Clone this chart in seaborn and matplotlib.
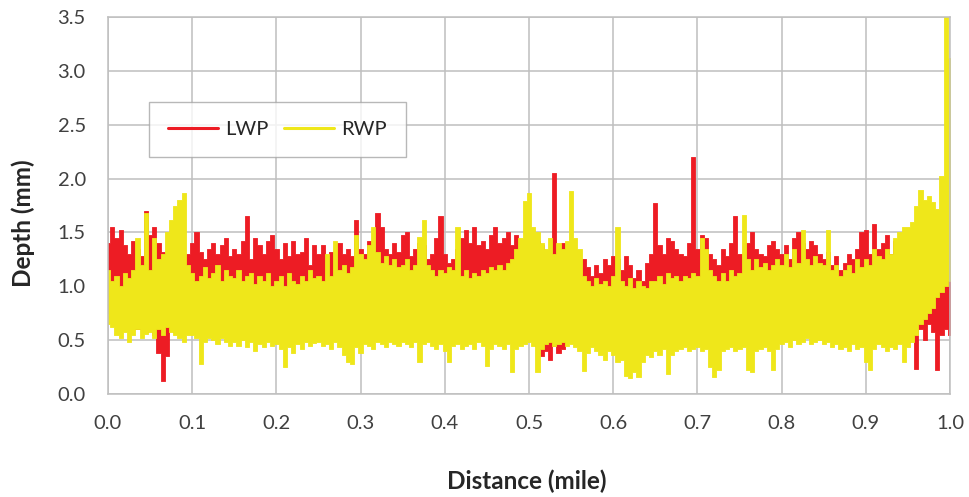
import numpy as np
import pandas as pd
import matplotlib
matplotlib.use("Agg")
import matplotlib.pyplot as plt
from matplotlib.lines import Line2D
import seaborn as sns

# Distance stations (mile), every 0.005
distance = np.round(np.arange(0, 201) * 0.005, 3)

# LWP (left wheel path) local peaks / troughs, mm
lwp_hi = [
    1.40, 1.55, 1.45, 1.52, 1.38, 1.30, 1.42, 1.35, 1.28, 1.70,
    1.48, 1.55, 1.40, 1.32, 1.25, 1.38, 1.30, 1.35, 1.28, 1.30,
    1.40, 1.50, 1.32, 1.25, 1.35, 1.40, 1.30, 1.38, 1.45, 1.28,
    1.35, 1.30, 1.42, 1.65, 1.25, 1.45, 1.38, 1.30, 1.42, 1.48,
    1.35, 1.25, 1.40, 1.28, 1.42, 1.30, 1.32, 1.45, 1.20, 1.38,
    1.30, 1.38, 1.25, 1.32, 1.28, 1.40, 1.30, 1.35, 1.28, 1.62,
    1.35, 1.30, 1.42, 1.25, 1.68, 1.55, 1.35, 1.30, 1.40, 1.32,
    1.48, 1.50, 1.28, 1.35, 1.40, 1.38, 1.25, 1.30, 1.45, 1.65,
    1.30, 1.22, 1.25, 1.35, 1.45, 1.52, 1.40, 1.55, 1.38, 1.42,
    1.35, 1.48, 1.55, 1.40, 1.45, 1.50, 1.38, 1.48, 1.35, 1.40,
    1.40, 1.35, 1.42, 1.38, 1.30, 1.28, 2.05, 1.35, 1.40, 1.30,
    1.25, 1.15, 1.10, 1.25, 1.18, 1.10, 1.20, 1.12, 1.25, 1.20,
    1.28, 1.25, 1.15, 1.28, 1.20, 1.08, 1.15, 1.05, 1.22, 1.30,
    1.77, 1.38, 1.30, 1.45, 1.42, 1.35, 1.30, 1.28, 1.40, 2.20,
    1.35, 1.48, 1.45, 1.30, 1.25, 1.20, 1.35, 1.28, 1.40, 1.65,
    1.30, 1.25, 1.40, 1.50, 1.35, 1.30, 1.28, 1.38, 1.42, 1.35,
    1.30, 1.38, 1.25, 1.45, 1.50, 1.40, 1.35, 1.42, 1.38, 1.30,
    1.25, 1.32, 1.20, 1.28, 1.15, 1.22, 1.30, 1.25, 1.35, 1.50,
    1.52, 1.30, 1.58, 1.35, 1.40, 1.48, 1.30, 1.42, 1.35, 1.28,
    1.32, 1.25, 1.20, 1.15, 1.10, 1.05, 0.95, 1.00, 1.08, 1.10,
    1.05,
]
lwp_lo = [
    0.75, 0.68, 0.72, 0.65, 0.70, 0.62, 0.68, 0.60, 0.66, 0.58,
    0.62, 0.55, 0.38, 0.12, 0.35, 0.60, 0.58, 0.65, 0.62, 0.70,
    0.65, 0.60, 0.68, 0.62, 0.70, 0.58, 0.64, 0.60, 0.66, 0.62,
    0.58, 0.66, 0.60, 0.64, 0.55, 0.62, 0.68, 0.60, 0.57, 0.63,
    0.60, 0.65, 0.58, 0.62, 0.68, 0.60, 0.55, 0.63, 0.60, 0.66,
    0.62, 0.58, 0.65, 0.60, 0.66, 0.62, 0.58, 0.64, 0.60, 0.65,
    0.62, 0.58, 0.66, 0.60, 0.64, 0.50, 0.62, 0.58, 0.65, 0.60,
    0.62, 0.58, 0.66, 0.60, 0.58, 0.62, 0.55, 0.64, 0.60, 0.65,
    0.55, 0.62, 0.58, 0.65, 0.60, 0.52, 0.62, 0.58, 0.64, 0.60,
    0.62, 0.66, 0.60, 0.64, 0.58, 0.62, 0.60, 0.65, 0.58, 0.60,
    0.62, 0.50, 0.45, 0.35, 0.40, 0.32, 0.45, 0.38, 0.42, 0.55,
    0.60, 0.58, 0.62, 0.55, 0.60, 0.58, 0.62, 0.56, 0.60, 0.62,
    0.58, 0.62, 0.55, 0.60, 0.58, 0.62, 0.56, 0.60, 0.64, 0.58,
    0.55, 0.60, 0.58, 0.62, 0.56, 0.60, 0.52, 0.62, 0.58, 0.55,
    0.50, 0.58, 0.62, 0.56, 0.60, 0.58, 0.54, 0.60, 0.56, 0.62,
    0.58, 0.55, 0.60, 0.48, 0.56, 0.60, 0.58, 0.62, 0.56, 0.60,
    0.58, 0.62, 0.56, 0.60, 0.55, 0.58, 0.62, 0.56, 0.60, 0.58,
    0.55, 0.60, 0.58, 0.62, 0.50, 0.58, 0.56, 0.60, 0.55, 0.58,
    0.56, 0.60, 0.50, 0.58, 0.55, 0.60, 0.58, 0.52, 0.55, 0.50,
    0.48, 0.55, 0.23, 0.60, 0.50, 0.65, 0.58, 0.22, 0.55, 0.60,
    0.55,
]

# RWP (right wheel path) local peaks / troughs, mm
rwp_hi = [
    1.15, 1.05, 1.10, 1.00, 1.12, 1.08, 1.15, 1.45, 1.20, 1.68,
    1.15, 1.45, 1.25, 1.30, 1.50, 1.62, 1.75, 1.80, 1.87, 1.20,
    1.12, 1.05, 1.10, 1.18, 1.08, 1.12, 1.20, 1.05, 1.15, 1.10,
    1.08, 1.15, 1.05, 1.10, 1.12, 1.02, 1.10, 1.05, 1.12, 1.00,
    1.05, 1.10, 1.00, 1.12, 1.05, 1.02, 1.10, 1.05, 1.15, 1.08,
    1.10, 1.05, 1.30, 1.10, 1.42, 1.15, 1.20, 1.12, 1.18, 1.48,
    1.30, 1.25, 1.38, 1.55, 1.32, 1.22, 1.28, 1.20, 1.25, 1.18,
    1.20, 1.25, 1.15, 1.20, 1.46, 1.62, 1.20, 1.15, 1.10, 1.15,
    1.12, 1.18, 1.15, 1.55, 1.10, 1.15, 1.08, 1.12, 1.10, 1.15,
    1.12, 1.18, 1.15, 1.20, 1.15, 1.22, 1.25, 1.35, 1.45, 1.79,
    1.87, 1.55, 1.50, 1.40, 1.35, 1.45, 1.30, 1.40, 1.35, 1.42,
    1.88, 1.45, 1.35, 1.10, 1.05, 1.00, 1.08, 1.02, 1.05, 1.00,
    1.10, 1.55, 1.05, 1.00, 1.08, 0.98, 1.05, 1.00, 0.98, 1.05,
    1.05, 1.10, 1.02, 1.12, 1.08, 1.10, 1.05, 1.10, 1.08, 1.12,
    1.10, 1.45, 1.35, 1.15, 1.10, 1.05, 1.12, 1.05, 1.15, 1.10,
    1.12, 1.66, 1.25, 1.15, 1.25, 1.18, 1.22, 1.15, 1.20, 1.25,
    1.20, 1.30, 1.18, 1.35, 1.22, 1.52, 1.25, 1.20, 1.28, 1.22,
    1.20, 1.52, 1.15, 1.20, 1.10, 1.15, 1.20, 1.12, 1.25, 1.18,
    1.25, 1.20, 1.35, 1.28, 1.25, 1.35, 1.30, 1.45, 1.50, 1.55,
    1.55, 1.60, 1.75, 1.89, 1.80, 1.84, 1.78, 1.72, 2.02, 3.50,
    3.12,
]
rwp_lo = [
    0.65, 0.62, 0.55, 0.52, 0.58, 0.48, 0.55, 0.60, 0.52, 0.56,
    0.58, 0.52, 0.60, 0.55, 0.62, 0.58, 0.55, 0.52, 0.48, 0.55,
    0.55, 0.52, 0.28, 0.48, 0.52, 0.50, 0.46, 0.52, 0.48, 0.45,
    0.48, 0.45, 0.50, 0.44, 0.48, 0.40, 0.46, 0.44, 0.48, 0.45,
    0.46, 0.42, 0.25, 0.44, 0.38, 0.46, 0.42, 0.48, 0.45, 0.47,
    0.48, 0.45, 0.46, 0.42, 0.48, 0.44, 0.36, 0.30, 0.28, 0.44,
    0.38, 0.46, 0.45, 0.42, 0.48, 0.46, 0.44, 0.48, 0.46, 0.45,
    0.48, 0.46, 0.44, 0.48, 0.30, 0.46, 0.48, 0.45, 0.42, 0.46,
    0.40, 0.30, 0.45, 0.46, 0.42, 0.45, 0.46, 0.42, 0.48, 0.45,
    0.26, 0.42, 0.46, 0.45, 0.42, 0.46, 0.20, 0.42, 0.45, 0.46,
    0.48, 0.45, 0.20, 0.42, 0.46, 0.48, 0.45, 0.46, 0.48, 0.45,
    0.46, 0.44, 0.40, 0.21, 0.38, 0.44, 0.40, 0.36, 0.32, 0.40,
    0.36, 0.30, 0.32, 0.17, 0.15, 0.20, 0.16, 0.30, 0.36, 0.34,
    0.40, 0.36, 0.42, 0.19, 0.36, 0.40, 0.42, 0.44, 0.40, 0.42,
    0.44, 0.40, 0.42, 0.25, 0.16, 0.22, 0.40, 0.42, 0.44, 0.40,
    0.42, 0.44, 0.22, 0.20, 0.40, 0.42, 0.44, 0.40, 0.22, 0.42,
    0.46, 0.48, 0.44, 0.50, 0.46, 0.48, 0.52, 0.46, 0.48, 0.50,
    0.46, 0.48, 0.44, 0.46, 0.42, 0.44, 0.40, 0.46, 0.42, 0.44,
    0.30, 0.22, 0.42, 0.46, 0.44, 0.40, 0.44, 0.42, 0.46, 0.30,
    0.44, 0.48, 0.55, 0.65, 0.70, 0.75, 0.80, 0.90, 0.95, 1.00,
    1.05,
]

x_ticks = [0.0, 0.1, 0.2, 0.3, 0.4, 0.5, 0.6, 0.7, 0.8, 0.9, 1.0]
y_ticks = [0.0, 0.5, 1.0, 1.5, 2.0, 2.5, 3.0, 3.5]
series_names = ["LWP", "RWP"]
colors = {"LWP": "#ED1C24", "RWP": "#EFE71A"}


def long_rows(name, hi, lo):
    # two observations per station: trough and peak; band = min..max
    return pd.DataFrame({
        "Distance": np.concatenate([distance, distance]),
        "Depth": np.concatenate([np.asarray(lo), np.asarray(hi)]),
        "Path": name,
    })


df = pd.concat([long_rows("LWP", lwp_hi, lwp_lo), long_rows("RWP", rwp_hi, rwp_lo)],
               ignore_index=True)

sns.set_style("white")
plt.rcParams["font.family"] = ["Lato", "DejaVu Sans"]

fig = plt.figure(figsize=(9.7, 4.97), dpi=100)
ax = fig.add_axes([108 / 970, 1 - 394 / 497, 842 / 970, 377 / 497])

sns.lineplot(data=df, x="Distance", y="Depth", hue="Path", hue_order=series_names,
             palette=colors, estimator="mean", errorbar=("pi", 100),
             err_kws={"alpha": 1, "step": "mid", "linewidth": 0.6},
             linewidth=0, legend=False, ax=ax)

ax.set_xlim(0, 1.0)
ax.set_ylim(0, 3.5)
ax.set_xticks(x_ticks)
ax.set_xticklabels([f"{v:.1f}" for v in x_ticks])
ax.set_yticks(y_ticks)
ax.set_yticklabels([f"{v:.1f}" for v in y_ticks])
ax.grid(True, color="#BFBFBF", linewidth=1.1, zorder=0)
ax.set_axisbelow(True)
for s in ax.spines.values():
    s.set_color("#BFBFBF")
    s.set_linewidth(1.1)
ax.tick_params(axis="both", length=0, labelsize=14.5, colors="#404040")
ax.tick_params(axis="y", pad=16)
ax.tick_params(axis="x", pad=15)

ax.set_xlabel("Distance (mile)", fontsize=17.5, fontweight="bold", color="#262626")
ax.set_ylabel("Depth (mm)", fontsize=17.5, fontweight="bold", color="#262626")
ax.xaxis.label.set_va("center")
ax.yaxis.label.set_va("center")
ax.xaxis.set_label_coords((527 - 108) / 842, (394 - 481) / 377)
ax.yaxis.set_label_coords((23 - 108) / 842, (394 - 223) / 377)

handles = [Line2D([0], [0], color=colors[n], linewidth=2.2) for n in series_names]
leg = ax.legend(handles, series_names, loc="upper left",
                bbox_to_anchor=(41 / 842, (394 - 102) / 377),
                ncol=2, frameon=True, fancybox=False, fontsize=14.5,
                handlelength=2.5, columnspacing=0.75, handletextpad=0.35,
                borderpad=0.95, borderaxespad=0)
leg.get_frame().set_edgecolor("#A6A6A6")
leg.get_frame().set_linewidth(1.0)
for t in leg.get_texts():
    t.set_color("#262626")

fig.savefig("out.png", dpi=100)
